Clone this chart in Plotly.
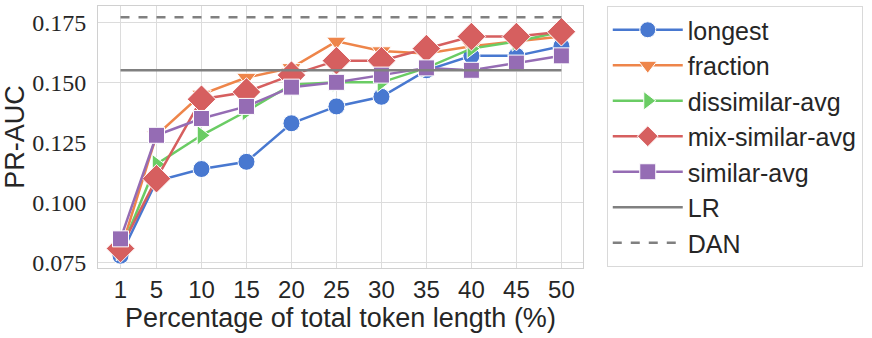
import plotly.graph_objects as go

# token percentage (x) and PR-AUC per strategy
pct = [1, 5, 10, 15, 20, 25, 30, 35, 40, 45, 50]
longest = [0.078, 0.109, 0.114, 0.117, 0.133, 0.140, 0.144, 0.155, 0.161, 0.161, 0.165]
fraction = [0.080, 0.128, 0.145, 0.152, 0.156, 0.167, 0.163, 0.162, 0.165, 0.167, 0.169]
dissimilar_avg = [0.080, 0.116, 0.128, 0.138, 0.149, 0.150, 0.150, 0.156, 0.164, 0.167, 0.171]
mix_similar_avg = [0.081, 0.110, 0.143, 0.146, 0.153, 0.159, 0.159, 0.164, 0.169, 0.169, 0.171]
similar_avg = [0.085, 0.128, 0.135, 0.140, 0.148, 0.150, 0.153, 0.156, 0.155, 0.158, 0.161]
lr_score = 0.155
dan_score = 0.177

series = [
    ("longest", longest, "#4878d0", "circle", 17),
    ("fraction", fraction, "#ee854a", "triangle-down", 17),
    ("dissimilar-avg", dissimilar_avg, "#6acc64", "triangle-right", 17),
    ("mix-similar-avg", mix_similar_avg, "#d65f5f", "diamond", 22),
    ("similar-avg", similar_avg, "#956cb4", "square", 16),
]

fig = go.Figure()

for name, vals, color, symbol, size in series:
    fig.add_trace(go.Scatter(
        x=pct, y=vals, name=name, mode="lines+markers",
        line=dict(color=color, width=2.5),
        marker=dict(symbol=symbol, size=size, color=color,
                    line=dict(color="white", width=1)),
        legendgroup=name,
    ))

# reference baselines
fig.add_trace(go.Scatter(
    x=[pct[0], pct[-1]], y=[lr_score, lr_score], name="LR", mode="lines",
    line=dict(color="#808080", width=2.5), legendgroup="LR",
))
fig.add_trace(go.Scatter(
    x=[pct[0], pct[-1]], y=[dan_score, dan_score], name="DAN", mode="lines",
    line=dict(color="#808080", width=2.5, dash="dash"), legendgroup="DAN",
))

fig.update_layout(
    width=872, height=338,
    margin=dict(l=98, r=289, t=6, b=70, autoexpand=False),
    plot_bgcolor="white", paper_bgcolor="white",
    font=dict(family="Liberation Sans, Arial, sans-serif", color="#262626", size=24),
    legend=dict(
        x=1.049, xanchor="left", y=1.0, yanchor="top",
        bordercolor="#d9d9d9", borderwidth=1,
        font=dict(size=25), tracegroupgap=0, itemwidth=70,
        traceorder="grouped", maxheight=330,
    ),
    xaxis=dict(
        range=[-1.5, 52.4], tickvals=pct, automargin=False,
        showgrid=True, gridcolor="#dcdcdc", gridwidth=1,
        showline=True, linecolor="#d0d0d0", mirror=True, zeroline=False,
        ticks="", tickfont=dict(size=24),
        title=dict(text="Percentage of total token length (%)", font=dict(size=27), standoff=6),
    ),
    yaxis=dict(
        range=[0.0729, 0.1817], tickvals=[0.075, 0.100, 0.125, 0.150, 0.175],
        ticktext=["0.075", "0.100", "0.125", "0.150", "0.175"], automargin=False,
        showgrid=True, gridcolor="#dcdcdc", gridwidth=1,
        showline=True, linecolor="#d0d0d0", mirror=True, zeroline=False,
        ticks="", tickfont=dict(size=24, family="Liberation Serif, serif"),
        ticklabelstandoff=6,
        title=dict(text="PR-AUC", font=dict(size=27), standoff=0),
    ),
)

# drop the browser's default body margin so the figure sits at the page corner
fig.write_html("out.html", config={"displayModeBar": False},
               post_script="document.body.style.margin='0';")
